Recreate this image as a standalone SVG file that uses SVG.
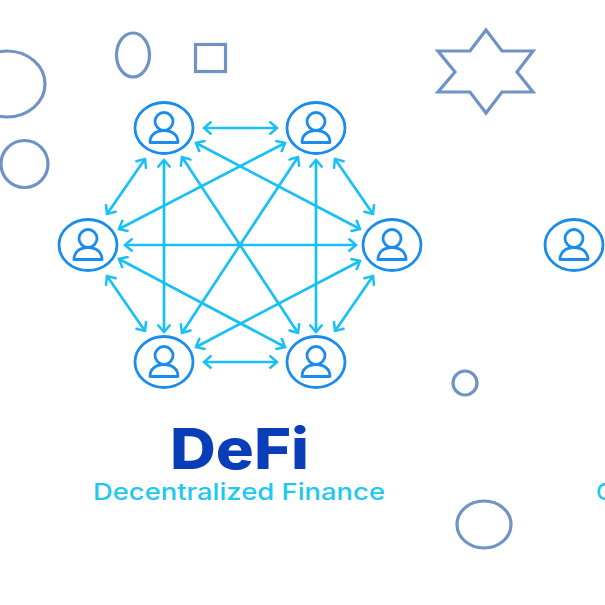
<svg xmlns="http://www.w3.org/2000/svg" xmlns:xlink="http://www.w3.org/1999/xlink" width="605" height="605" viewBox="0 0 605 605">
<style>
.deco{fill:none;stroke:#6f93c4;stroke-width:3.2}
.ring{fill:#fff;stroke:#1a8cec;stroke-width:2.8}
.fig{fill:none;stroke:#1a8cec;stroke-width:2.8;stroke-linejoin:round}
.arr{stroke:#18c0f5;stroke-width:2.7;fill:none;marker-start:url(#a);marker-end:url(#a)}
.t1{font-family:Inter,"Liberation Sans",sans-serif;font-weight:800;font-size:56px;fill:#0a3db8}
.t2{font-family:Inter,"Liberation Sans",sans-serif;font-weight:500;font-size:23.5px;fill:#1ec8f0}
</style>
<defs>
<marker id="a" viewBox="-10 -7 12 14" refX="0" refY="0" markerWidth="12" markerHeight="14" markerUnits="userSpaceOnUse" orient="auto-start-reverse">
<path d="M-7.5 -6.5L0 0L-7.5 6.5" fill="none" stroke="#18c0f5" stroke-width="2.5"/>
</marker>
<g id="person">
<ellipse class="ring" rx="29" ry="25.5"/>
<circle class="fig" cy="-6.5" r="9"/>
<path class="fig" d="M-14 14.5C-14 7 -8 2.5 0 2.5C8 2.5 14 7 14 14.5Z"/>
</g>
</defs>
<rect width="605" height="605" fill="#fff"/>
<g id="decor">
<ellipse class="deco" cx="7" cy="84" rx="38" ry="33"/>
<ellipse class="deco" cx="24.5" cy="164" rx="23.5" ry="23.5"/>
<ellipse class="deco" cx="133" cy="55" rx="16.5" ry="22"/>
<rect class="deco" x="195.5" y="44.5" width="30" height="27"/>
<polygon class="deco" points="486,30 502,51 533,51 517,72 533,92 502,92 486,113 470,92 438,92 455,72 438,51 470,51"/>
<circle class="deco" cx="465" cy="383" r="12"/>
<ellipse class="deco" cx="484" cy="524.5" rx="27" ry="23.5"/>
</g>
<g id="connectors">
<line class="arr" x1="204" y1="128" x2="277" y2="128"/>
<line class="arr" x1="145" y1="159" x2="107" y2="214"/>
<line class="arr" x1="164" y1="160" x2="164" y2="332"/>
<line class="arr" x1="182" y1="157" x2="298" y2="333"/>
<line class="arr" x1="196" y1="143" x2="360" y2="229"/>
<line class="arr" x1="125" y1="245" x2="356" y2="245"/>
<line class="arr" x1="119" y1="229" x2="285" y2="143"/>
<line class="arr" x1="107" y1="276" x2="145" y2="331"/>
<line class="arr" x1="119" y1="259" x2="285" y2="347"/>
<line class="arr" x1="298" y1="157" x2="182" y2="333"/>
<line class="arr" x1="316" y1="160" x2="316" y2="332"/>
<line class="arr" x1="335" y1="159" x2="373" y2="214"/>
<line class="arr" x1="360" y1="261" x2="196" y2="347"/>
<line class="arr" x1="373" y1="276" x2="335" y2="331"/>
<line class="arr" x1="204" y1="362" x2="277" y2="362"/>
</g>
<g id="node-1"><use xlink:href="#person" href="#person" x="164" y="128"/></g>
<g id="node-2"><use xlink:href="#person" href="#person" x="316" y="128"/></g>
<g id="node-3"><use xlink:href="#person" href="#person" x="88" y="245"/></g>
<g id="node-4"><use xlink:href="#person" href="#person" x="392" y="245"/></g>
<g id="node-5"><use xlink:href="#person" href="#person" x="164" y="362"/></g>
<g id="node-6"><use xlink:href="#person" href="#person" x="316" y="362"/></g>
<g id="node-7"><use xlink:href="#person" href="#person" x="574" y="245"/></g>
<g id="labels">
<text class="t1" x="170" y="469" textLength="139" lengthAdjust="spacingAndGlyphs">DeFi</text>
<text class="t2" x="93" y="500" textLength="292" lengthAdjust="spacingAndGlyphs">Decentralized Finance</text>
<text class="t2" x="596" y="500">C</text>
</g>
</svg>
